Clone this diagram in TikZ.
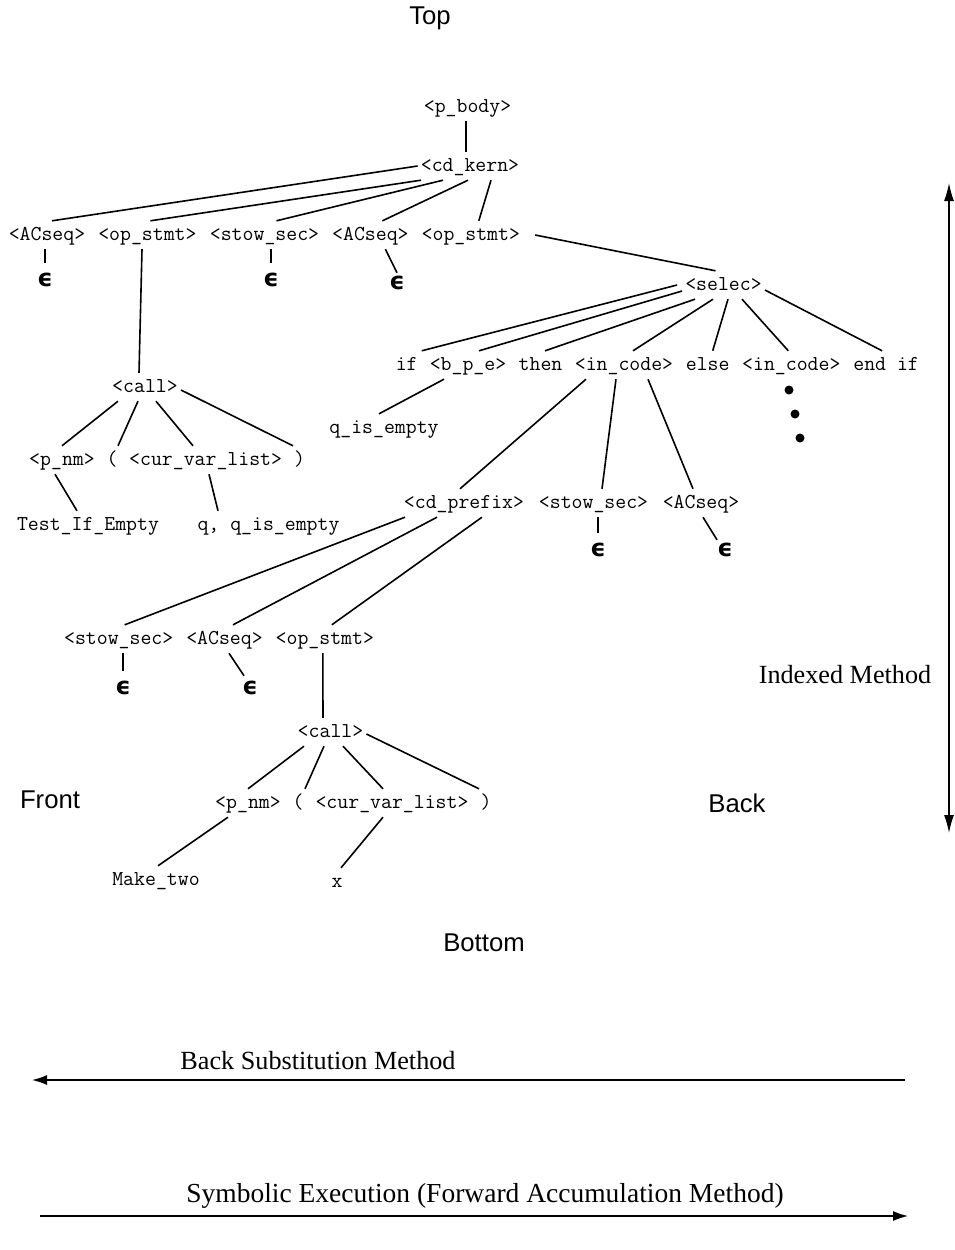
\documentclass[tikz,border=0pt]{standalone}
\usepackage{fontspec}
\setmainfont{Liberation Serif}
\newfontfamily\sansf{Liberation Sans}
\newfontfamily\epsf{DejaVu Sans}
\usetikzlibrary{arrows.meta}
\tikzset{
  tt/.style={font=\ttfamily\fontsize{21.2}{24}\selectfont, inner xsep=3pt, inner ysep=0pt, text height=13pt, text depth=3pt, minimum height=28pt},
  eps/.style={font=\epsf\bfseries\fontsize{24}{28}\selectfont, inner sep=0pt, text height=13pt, text depth=0pt, minimum height=34pt},
  lbl/.style={font=\sansf\fontsize{25.7}{30}\selectfont, inner sep=0pt},
  mth/.style={font=\fontsize{26.2}{30}\selectfont, inner sep=0pt},
  br/.style={line width=1.6pt},
  dotn/.style={circle, fill=black, inner sep=0pt, minimum size=9pt},
  arr/.style={line width=1.4pt, -{Latex[length=15pt,width=10pt]}},
  varr/.style={line width=1.4pt, {Latex[length=18pt,width=10pt]}-{Latex[length=18pt,width=10pt]}},
}
\begin{document}
\begin{tikzpicture}[x=1pt,y=-1pt]
\useasboundingbox (0,0) rectangle (955,1250);
% labels
\node[lbl] (top) at (430,18) {Top};
\node[lbl] (front) at (50,800) {Front};
\node[lbl] (back) at (737,803) {Back};
\node[lbl] (bottom) at (484,943) {Bottom};
\node[mth] (idx) at (845,675) {Indexed Method};
\node[mth] (bsm) at (318,1061) {Back Substitution Method};
\node[mth, font=\fontsize{27.5}{32}\selectfont] (sym) at (485,1196) {Symbolic Execution (Forward Accumulation Method)};
% arrows
\coordinate (va1) at (949,183);
\coordinate (va2) at (949,833);
\draw[varr] (va1) -- (va2);
\coordinate (ha1) at (905,1080);
\coordinate (ha2) at (32,1080);
\draw[arr] (ha1) -- (ha2);
\coordinate (hb1) at (40,1216);
\coordinate (hb2) at (908,1216);
\draw[arr] (hb1) -- (hb2);
% top of tree
\node[tt] (pbody) at (467.5,107) {<p\_body>};
\node[tt] (cdkern) at (470,166) {<cd\_kern>};
\node[tt] (acseqA) at (47,235) {<ACseq>};
\node[tt] (opstmtA) at (147.4,235) {<op\_stmt>};
\node[tt] (stowA) at (264.5,235) {<stow\_sec>};
\node[tt] (acseqB) at (370.4,235) {<ACseq>};
\node[tt] (opstmtB) at (470.8,235) {<op\_stmt>};
\node[eps] (eps1) at (45,280) {ϵ};
\node[eps] (eps2) at (271,280) {ϵ};
\node[eps] (eps3) at (397,283) {ϵ};
\draw[br] ([xshift=-1.5]pbody.south) -- ([xshift=-4]cdkern.north);
\draw[br] (cdkern.west) -- ([xshift=5]acseqA.north);
\draw[br] ([xshift=-49]cdkern.south) -- ([xshift=3]opstmtA.north);
\draw[br] ([xshift=-27]cdkern.south) -- ([xshift=12]stowA.north);
\draw[br] ([xshift=-2]cdkern.south) -- ([xshift=12]acseqB.north);
\draw[br] ([xshift=21]cdkern.south) -- ([xshift=8]opstmtB.north);
\draw[br] ([xshift=-2]acseqA.south) -- (eps1.north);
\draw[br] ([xshift=6.5]stowA.south) -- (eps2.north);
\draw[br] ([xshift=15]acseqB.south) -- ([yshift=-7]eps3.north);
% left call
\node[tt] (callA) at (145,387) {<call>};
\node[tt] (pnmA) at (62,460) {<p\_nm>};
\node[tt] (lparA) at (112,460) {(};
\node[tt] (cvlA) at (205.6,460) {<cur\_var\_list>};
\node[tt] (rparA) at (299.5,460) {)};
\node[tt] (tie) at (88,525) {Test\_If\_Empty};
\node[tt] (qq) at (268.5,525) {q, q\_is\_empty};
\draw[br] ([xshift=-5.4]opstmtA.south) -- ([xshift=-6]callA.north);
\draw[br] ([xshift=-27]callA.south) -- (pnmA.north);
\draw[br] ([xshift=-7]callA.south) -- ([xshift=6]lparA.north);
\draw[br] ([xshift=11]callA.south) -- ([xshift=-12.6]cvlA.north);
\draw[br] ([yshift=-3]callA.east) -- ([xshift=-6.5]rparA.north);
\draw[br] ([xshift=-7]pnmA.south) -- ([xshift=-11]tie.north);
\draw[br] ([xshift=3.4]cvlA.south) -- ([xshift=-50.5]qq.north);
% selec
\node[tt] (selec) at (723.5,285) {<selec>};
\node[tt] (if) at (406.7,365) {if};
\node[tt] (bpe) at (468,365) {<b\_p\_e>};
\node[tt] (then) at (540.5,365) {then};
\node[tt] (incodeA) at (624,365) {<in\_code>};
\node[tt] (else) at (707.7,365) {else};
\node[tt] (incodeB) at (791.3,365) {<in\_code>};
\node[tt] (endif) at (886.1,365) {end if};
\node[tt] (qempty) at (384,428) {q\_is\_empty};
\draw[br] ([xshift=12]opstmtB.east) -- ([xshift=-8]selec.north);
\draw[br] ([xshift=-5]selec.west) -- ([xshift=15]if.north);
\draw[br] ([yshift=-6]selec.west) -- ([xshift=11]bpe.north);
\draw[br] ([xshift=-28.5]selec.south) -- ([xshift=4.5]then.north);
\draw[br] ([xshift=-10.5]selec.south) -- ([xshift=9]incodeA.north);
\draw[br] ([xshift=4.5]selec.south) -- ([xshift=5]else.north);
\draw[br] ([xshift=18.5]selec.south) -- ([xshift=-3]incodeB.north);
\draw[br] ([yshift=-5]selec.east) -- ([xshift=-4]endif.north);
\draw[br] ([xshift=-24]bpe.south) -- ([xshift=-5]qempty.north);
\node[dotn] (d1) at (789,390) {};
\node[dotn] (d2) at (795,414) {};
\node[dotn] (d3) at (800,438) {};
% in_code subtree
\node[tt] (cdprefix) at (464,503) {<cd\_prefix>};
\node[tt] (stowB) at (593.5,503) {<stow\_sec>};
\node[tt] (acseqC) at (701,503) {<ACseq>};
\node[eps] (eps4) at (598,550) {ϵ};
\node[eps] (eps5) at (725,550) {ϵ};
\draw[br] ([xshift=-38]incodeA.south) -- ([xshift=-4]cdprefix.north);
\draw[br] ([xshift=-8]incodeA.south) -- ([xshift=8.5]stowB.north);
\draw[br] ([xshift=24]incodeA.south) -- ([xshift=-8]acseqC.north);
\draw[br] ([xshift=4.5]stowB.south) -- (eps4.north);
\draw[br] ([xshift=2]acseqC.south) -- ([xshift=-8,yshift=-7]eps5.north);
% cd_prefix subtree
\node[tt] (stowC) at (118.7,639) {<stow\_sec>};
\node[tt] (acseqD) at (224.5,639) {<ACseq>};
\node[tt] (opstmtC) at (324.8,639) {<op\_stmt>};
\node[eps] (eps6) at (123,688) {ϵ};
\node[eps] (eps7) at (250,688) {ϵ};
\draw[br] ([xshift=-59]cdprefix.south) -- ([xshift=6]stowC.north);
\draw[br] ([xshift=-27]cdprefix.south) -- ([xshift=8.5]acseqD.north);
\draw[br] ([xshift=18]cdprefix.south) -- ([xshift=7]opstmtC.north);
\draw[br] ([xshift=4.3]stowC.south) -- (eps6.north);
\draw[br] ([xshift=4.5]acseqD.south) -- ([xshift=-6,yshift=-5]eps7.north);
% lower call
\node[tt] (callB) at (330.5,732) {<call>};
\node[tt] (pnmB) at (248,803) {<p\_nm>};
\node[tt] (lparB) at (298,803) {(};
\node[tt] (cvlB) at (392,803) {<cur\_var\_list>};
\node[tt] (rparB) at (486,803) {)};
\node[tt] (maketwo) at (156,880) {Make\_two};
\node[tt] (xv) at (337,882) {x};
\draw[br] ([xshift=-2]opstmtC.south) -- ([xshift=-7.5]callB.north);
\draw[br] ([xshift=-26.5]callB.south) -- (pnmB.north);
\draw[br] ([xshift=-6.5]callB.south) -- ([xshift=7]lparB.north);
\draw[br] ([xshift=12.5]callB.south) -- ([xshift=-9]cvlB.north);
\draw[br] ([yshift=-2]callB.east) -- ([xshift=-7]rparB.north);
\draw[br] ([xshift=-20]pnmB.south) -- ([xshift=2]maketwo.north);
\draw[br] ([xshift=-9]cvlB.south) -- ([xshift=4]xv.north);
\end{tikzpicture}
\end{document}
